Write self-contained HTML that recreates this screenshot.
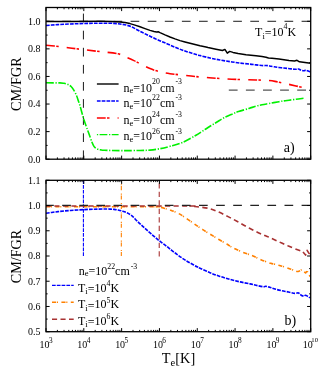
<!DOCTYPE html>
<html lang="en"><head><meta charset="utf-8"><title>CM/FGR vs Te</title>
<style>html,body{margin:0;padding:0;background:#fff;}body{width:332px;height:368px;overflow:hidden;font-family:"Liberation Serif",serif;}svg{display:block;will-change:transform;}</style></head>
<body>
<svg width="332" height="368" viewBox="0 0 332 368">
<defs><clipPath id="ca"><rect x="46.00" y="7.50" width="264.70" height="151.70"/></clipPath><clipPath id="cb"><rect x="46.00" y="180.30" width="264.70" height="151.40"/></clipPath></defs>
<rect width="332" height="368" fill="#fff"/>
<g clip-path="url(#ca)" fill="none" stroke-linecap="butt" stroke-linejoin="round">
<path d="M46.00,21.29 H310.70" stroke="#1a1a1a" stroke-width="1" stroke-dasharray="8.7 8.4" stroke-dashoffset="0.90"/>
<path d="M83.41,-3.50 V159.20" stroke="#1a1a1a" stroke-width="1" stroke-dasharray="8.7 8.4"/>
<path d="M228.8,90.1 H306" stroke="#555" stroke-width="1.2" stroke-dasharray="8.8 8.3"/>
<path d="M46.00,82.80 C48.33,82.82 57.00,82.82 60.00,82.90 C63.00,82.98 62.75,83.07 64.00,83.30 C65.25,83.53 66.32,83.77 67.50,84.30 C68.68,84.83 70.05,85.53 71.10,86.50 C72.15,87.47 72.90,88.60 73.80,90.10 C74.70,91.60 75.73,93.70 76.50,95.50 C77.27,97.30 77.78,99.08 78.40,100.90 C79.02,102.72 79.45,103.83 80.20,106.40 C80.95,108.97 82.23,113.93 82.90,116.30 C83.57,118.67 83.45,118.38 84.20,120.60 C84.95,122.82 86.70,127.67 87.40,129.60 C88.10,131.53 87.95,130.97 88.40,132.20 C88.85,133.43 89.50,135.32 90.10,137.00 C90.70,138.68 91.45,140.90 92.00,142.30 C92.55,143.70 92.98,144.60 93.40,145.40 C93.82,146.20 94.07,146.60 94.50,147.10 C94.93,147.60 95.40,148.03 96.00,148.40 C96.60,148.77 97.27,149.05 98.10,149.30 C98.93,149.55 100.00,149.75 101.00,149.90 C102.00,150.05 102.27,150.10 104.10,150.20 C105.93,150.30 108.68,150.43 112.00,150.50 C115.32,150.57 119.33,150.60 124.00,150.60 C128.67,150.60 135.67,150.58 140.00,150.50 C144.33,150.42 146.67,150.40 150.00,150.10 C153.33,149.80 156.67,149.33 160.00,148.70 C163.33,148.07 166.17,147.38 170.00,146.30 C173.83,145.22 178.67,144.05 183.00,142.20 C187.33,140.35 192.67,137.10 196.00,135.20 C199.33,133.30 200.67,132.28 203.00,130.80 C205.33,129.32 207.67,127.77 210.00,126.30 C212.33,124.83 214.67,123.42 217.00,122.00 C219.33,120.58 221.50,119.10 224.00,117.80 C226.50,116.50 229.58,115.23 232.00,114.20 C234.42,113.17 235.67,112.57 238.50,111.60 C241.33,110.63 246.08,109.30 249.00,108.40 C251.92,107.50 253.83,106.80 256.00,106.20 C258.17,105.60 259.83,105.25 262.00,104.80 C264.17,104.35 266.17,104.02 269.00,103.50 C271.83,102.98 276.50,102.13 279.00,101.70 C281.50,101.27 282.33,101.15 284.00,100.90 C285.67,100.65 287.00,100.48 289.00,100.20 C291.00,99.92 293.58,99.52 296.00,99.20 C298.42,98.88 302.25,98.45 303.50,98.30" stroke="#00f000" stroke-width="1.6" stroke-dasharray="7.75 1.7 1.25 1.45"/>
<path d="M46.00,45.20 C48.33,45.43 55.67,46.10 60.00,46.60 C64.33,47.10 68.00,47.68 72.00,48.20 C76.00,48.72 79.33,49.13 84.00,49.70 C88.67,50.27 94.33,50.92 100.00,51.60 C105.67,52.28 113.50,52.82 118.00,53.80 C122.50,54.78 124.33,56.37 127.00,57.50 C129.67,58.63 131.83,59.57 134.00,60.60 C136.17,61.63 137.33,62.37 140.00,63.70 C142.67,65.03 146.67,67.25 150.00,68.60 C153.33,69.95 156.67,70.93 160.00,71.80 C163.33,72.67 166.67,73.30 170.00,73.80 C173.33,74.30 175.67,74.33 180.00,74.80 C184.33,75.27 190.00,76.03 196.00,76.60 C202.00,77.17 209.33,77.73 216.00,78.20 C222.67,78.67 229.33,79.10 236.00,79.40 C242.67,79.70 251.00,79.85 256.00,80.00 C261.00,80.15 262.83,80.07 266.00,80.30 C269.17,80.53 272.33,80.95 275.00,81.40 C277.67,81.85 279.50,82.47 282.00,83.00 C284.50,83.53 286.50,83.83 290.00,84.60 C293.50,85.37 300.83,87.10 303.00,87.60" stroke="#ff0000" stroke-width="1.6" stroke-dasharray="8.8 1.3 2.5 8.1"/>
<path d="M46.00,25.48 C47.50,25.37 52.00,25.03 55.00,24.83 C58.00,24.62 60.83,24.44 64.00,24.28 C67.17,24.11 70.67,23.97 74.00,23.84 C77.33,23.71 80.67,23.60 84.00,23.51 C87.33,23.42 90.67,23.35 94.00,23.29 C97.33,23.24 101.33,23.19 104.00,23.19 C106.67,23.18 108.33,23.20 110.00,23.24 C111.67,23.28 112.67,23.32 114.00,23.40 C115.33,23.49 116.67,23.59 118.00,23.73 C119.33,23.88 120.50,24.02 122.00,24.28 C123.50,24.53 125.33,24.82 127.00,25.26 C128.67,25.71 130.33,26.22 132.00,26.96 C133.67,27.69 135.33,28.81 137.00,29.69 C138.67,30.57 140.33,31.41 142.00,32.26 C143.67,33.11 145.33,33.95 147.00,34.77 C148.67,35.59 150.33,36.38 152.00,37.18 C153.67,37.97 155.33,38.78 157.00,39.53 C158.67,40.27 160.33,40.96 162.00,41.66 C163.67,42.36 165.33,43.02 167.00,43.74 C168.67,44.45 170.33,45.21 172.00,45.92 C173.67,46.63 175.33,47.32 177.00,48.00 C178.67,48.67 180.33,49.35 182.00,49.97 C183.67,50.59 185.33,51.17 187.00,51.71 C188.67,52.26 190.33,52.73 192.00,53.25 C193.67,53.76 195.67,54.39 197.00,54.78 C198.33,55.16 197.83,55.00 200.00,55.54 C202.17,56.08 206.67,57.25 210.00,58.00 C213.33,58.75 216.67,59.41 220.00,60.02 C223.33,60.63 226.67,61.16 230.00,61.66 C233.33,62.16 236.67,62.62 240.00,63.03 C243.33,63.44 247.33,63.81 250.00,64.12 C252.67,64.43 253.80,64.63 256.00,64.89 C258.20,65.14 261.55,65.56 263.20,65.65 C264.85,65.74 264.83,65.39 265.90,65.43 C266.97,65.48 268.23,65.70 269.60,65.92 C270.97,66.15 272.15,66.49 274.10,66.80 C276.05,67.11 278.90,67.49 281.30,67.78 C283.70,68.07 286.23,68.29 288.50,68.55 C290.77,68.80 293.23,69.23 294.90,69.31 C296.57,69.40 297.45,68.88 298.50,69.04 C299.55,69.20 300.30,70.01 301.20,70.30 C302.10,70.59 303.15,70.78 303.90,70.79 C304.65,70.80 304.80,70.23 305.70,70.35 C306.60,70.47 308.50,71.27 309.30,71.50 C310.10,71.73 310.30,71.68 310.50,71.72" stroke="#0000ff" stroke-width="1.6" stroke-dasharray="3.7 1.1"/>
<path d="M46.00,21.60 L70.00,21.40 L100.00,21.30 L112.00,21.50 L120.00,21.90 L125.00,22.60 L130.00,23.60 L135.00,25.10 L140.00,26.80 L145.00,28.60 L150.00,30.40 L154.00,31.50 L156.50,31.90 L158.50,31.80 L160.00,32.60 L165.00,34.90 L170.00,37.00 L175.00,38.90 L180.00,40.60 L185.00,42.00 L190.00,43.30 L195.00,44.60 L200.00,45.80 L206.00,47.00 L208.00,47.50 L216.00,49.20 L222.50,50.50 L224.90,49.40 L227.30,53.10 L229.70,51.40 L233.00,52.40 L238.10,53.50 L246.00,54.80 L256.00,55.80 L262.00,56.60 L266.00,57.20 L268.50,58.00 L272.00,58.20 L279.00,59.00 L289.00,60.40 L294.50,61.00 L297.00,60.30 L299.50,61.80 L305.00,62.60 L310.50,63.30" stroke="#000" stroke-width="1.5"/>
</g>
<g fill="none" stroke-width="1.4">
<path d="M96.9,84.0 H118.6" stroke="#000" stroke-width="1.4"/>
<path d="M96.9,101.0 H118.6" stroke="#0000ff" stroke-dasharray="3.7 1.1"/>
<path d="M96.9,118.0 H118.6" stroke="#ff0000" stroke-dasharray="8.8 1.3 2.5 8.1"/>
<path d="M96.9,134.6 H118.6" stroke="#00f000" stroke-dasharray="7.75 1.7 1.25 1.45" stroke-dashoffset="9.45"/>
</g>
<g clip-path="url(#cb)" fill="none" stroke-linecap="butt" stroke-linejoin="round">
<path d="M83.41,256.00 V180.30" stroke="#0000ff" stroke-width="1.1" stroke-dasharray="3.7 1.1"/>
<path d="M121.33,256.00 V180.30" stroke="#ff8000" stroke-width="1.1" stroke-dasharray="4.1 0.8 1.1 3.4"/>
<path d="M159.24,256.40 V180.30" stroke="#a83232" stroke-width="1.1" stroke-dasharray="5.1 3.4"/>
<path d="M46.00,213.20 C47.50,213.00 52.00,212.37 55.00,212.00 C58.00,211.63 60.83,211.30 64.00,211.00 C67.17,210.70 70.67,210.43 74.00,210.20 C77.33,209.97 80.67,209.77 84.00,209.60 C87.33,209.43 90.67,209.30 94.00,209.20 C97.33,209.10 101.33,209.02 104.00,209.00 C106.67,208.98 108.33,209.03 110.00,209.10 C111.67,209.17 112.67,209.25 114.00,209.40 C115.33,209.55 116.67,209.73 118.00,210.00 C119.33,210.27 120.50,210.53 122.00,211.00 C123.50,211.47 125.33,211.98 127.00,212.80 C128.67,213.62 130.33,214.55 132.00,215.90 C133.67,217.25 135.33,219.28 137.00,220.90 C138.67,222.52 140.33,224.05 142.00,225.60 C143.67,227.15 145.33,228.70 147.00,230.20 C148.67,231.70 150.33,233.15 152.00,234.60 C153.67,236.05 155.33,237.53 157.00,238.90 C158.67,240.27 160.33,241.52 162.00,242.80 C163.67,244.08 165.33,245.30 167.00,246.60 C168.67,247.90 170.33,249.30 172.00,250.60 C173.67,251.90 175.33,253.17 177.00,254.40 C178.67,255.63 180.33,256.87 182.00,258.00 C183.67,259.13 185.33,260.20 187.00,261.20 C188.67,262.20 190.33,263.07 192.00,264.00 C193.67,264.93 195.67,266.10 197.00,266.80 C198.33,267.50 197.83,267.22 200.00,268.20 C202.17,269.18 206.67,271.33 210.00,272.70 C213.33,274.07 216.67,275.28 220.00,276.40 C223.33,277.52 226.67,278.48 230.00,279.40 C233.33,280.32 236.67,281.15 240.00,281.90 C243.33,282.65 247.33,283.33 250.00,283.90 C252.67,284.47 253.80,284.83 256.00,285.30 C258.20,285.77 261.55,286.53 263.20,286.70 C264.85,286.87 264.83,286.22 265.90,286.30 C266.97,286.38 268.23,286.78 269.60,287.20 C270.97,287.62 272.15,288.23 274.10,288.80 C276.05,289.37 278.90,290.07 281.30,290.60 C283.70,291.13 286.23,291.53 288.50,292.00 C290.77,292.47 293.23,293.25 294.90,293.40 C296.57,293.55 297.45,292.60 298.50,292.90 C299.55,293.20 300.30,294.67 301.20,295.20 C302.10,295.73 303.15,296.08 303.90,296.10 C304.65,296.12 304.80,295.08 305.70,295.30 C306.60,295.52 308.50,296.98 309.30,297.40 C310.10,297.82 310.30,297.73 310.50,297.80" stroke="#0000ff" stroke-width="1.6" stroke-dasharray="3.7 1.1"/>
<path d="M46.00,206.70 C63.33,206.70 131.67,206.67 150.00,206.70 C168.33,206.73 154.33,206.82 156.00,206.90 C157.67,206.98 158.53,206.95 160.00,207.20 C161.47,207.45 163.00,207.90 164.80,208.40 C166.60,208.90 168.38,209.28 170.80,210.20 C173.22,211.12 176.48,212.38 179.30,213.90 C182.12,215.42 184.92,217.43 187.70,219.30 C190.48,221.17 193.42,223.33 196.00,225.10 C198.58,226.87 200.68,228.30 203.20,229.90 C205.72,231.50 208.48,233.10 211.10,234.70 C213.72,236.30 216.20,237.90 218.90,239.50 C221.60,241.10 224.92,242.88 227.30,244.30 C229.68,245.72 230.42,246.60 233.20,248.00 C235.98,249.40 240.68,251.37 244.00,252.70 C247.32,254.03 250.28,254.83 253.10,256.00 C255.92,257.17 257.98,258.48 260.90,259.70 C263.82,260.92 268.02,262.48 270.60,263.30 C273.18,264.12 274.63,264.15 276.40,264.60 C278.17,265.05 279.38,265.45 281.20,266.00 C283.02,266.55 285.08,267.13 287.30,267.90 C289.52,268.67 292.70,270.00 294.50,270.60 C296.30,271.20 296.90,271.67 298.10,271.50 C299.30,271.33 301.10,269.92 301.70,269.60 L305.60,273.00 L307.10,270.80 L308.70,274.80 L310.20,276.40" stroke="#ff8000" stroke-width="1.6" stroke-dasharray="4.1 0.8 1.1 3.4"/>
<path d="M46.00,206.00 C69.17,206.00 161.00,205.99 185.00,206.00 C209.00,206.01 188.50,205.98 190.00,206.05 C191.50,206.12 192.33,206.23 194.00,206.40 C195.67,206.57 197.33,206.72 200.00,207.10 C202.67,207.48 206.67,207.78 210.00,208.70 C213.33,209.62 216.67,211.12 220.00,212.60 C223.33,214.08 226.67,215.87 230.00,217.60 C233.33,219.33 236.67,221.18 240.00,223.00 C243.33,224.82 246.67,226.75 250.00,228.50 C253.33,230.25 256.83,232.05 260.00,233.50 C263.17,234.95 265.83,235.82 269.00,237.20 C272.17,238.58 275.67,240.28 279.00,241.80 C282.33,243.32 285.67,244.88 289.00,246.30 C292.33,247.72 296.78,249.47 299.00,250.30 C301.22,251.13 301.75,251.13 302.30,251.30 L305.60,255.10 L307.10,250.30 L309.00,253.40 L310.50,254.50" stroke="#a83232" stroke-width="1.6" stroke-dasharray="5.1 3.4"/>
<path d="M46.00,205.35 H310.70" stroke="#222" stroke-width="1.1" stroke-dasharray="8.7 8.4" stroke-dashoffset="0.90"/>
</g>
<g fill="none" stroke-width="1.4">
<path d="M52.0,285.4 H73.7" stroke="#0000ff" stroke-dasharray="3.7 1.1"/>
<path d="M52.0,302.3 H73.7" stroke="#ff8000" stroke-dasharray="4.1 0.8 1.1 3.4"/>
<path d="M52.0,319.2 H73.7" stroke="#a83232" stroke-dasharray="5.1 3.4"/>
</g>
<g fill="none" stroke="#000" stroke-width="1.3" stroke-linecap="square">
<rect x="46.00" y="7.50" width="264.70" height="151.70"/>
<rect x="46.00" y="180.30" width="264.70" height="151.40"/>
</g>
<g fill="none" stroke="#000" stroke-width="1" stroke-linecap="butt">
<path d="M46.00,7.50 v3.60 M57.38,7.50 v1.80 M64.04,7.50 v1.80 M68.77,7.50 v1.80 M72.43,7.50 v1.80 M75.43,7.50 v1.80 M77.96,7.50 v1.80 M80.15,7.50 v1.80 M82.08,7.50 v1.80 M83.81,7.50 v3.60 M95.20,7.50 v1.80 M101.86,7.50 v1.80 M106.58,7.50 v1.80 M110.25,7.50 v1.80 M113.24,7.50 v1.80 M115.77,7.50 v1.80 M117.96,7.50 v1.80 M119.90,7.50 v1.80 M121.63,7.50 v3.60 M133.01,7.50 v1.80 M139.67,7.50 v1.80 M144.40,7.50 v1.80 M148.06,7.50 v1.80 M151.05,7.50 v1.80 M153.59,7.50 v1.80 M155.78,7.50 v1.80 M157.71,7.50 v1.80 M159.44,7.50 v3.60 M170.83,7.50 v1.80 M177.48,7.50 v1.80 M182.21,7.50 v1.80 M185.87,7.50 v1.80 M188.87,7.50 v1.80 M191.40,7.50 v1.80 M193.59,7.50 v1.80 M195.53,7.50 v1.80 M197.26,7.50 v3.60 M208.64,7.50 v1.80 M215.30,7.50 v1.80 M220.02,7.50 v1.80 M223.69,7.50 v1.80 M226.68,7.50 v1.80 M229.21,7.50 v1.80 M231.41,7.50 v1.80 M233.34,7.50 v1.80 M235.07,7.50 v3.60 M246.45,7.50 v1.80 M253.11,7.50 v1.80 M257.84,7.50 v1.80 M261.50,7.50 v1.80 M264.50,7.50 v1.80 M267.03,7.50 v1.80 M269.22,7.50 v1.80 M271.16,7.50 v1.80 M272.89,7.50 v3.60 M284.27,7.50 v1.80 M290.93,7.50 v1.80 M295.65,7.50 v1.80 M299.32,7.50 v1.80 M302.31,7.50 v1.80 M304.84,7.50 v1.80 M307.04,7.50 v1.80 M308.97,7.50 v1.80 M310.70,7.50 v3.60"/>
<path d="M46.00,159.20 v-3.60 M57.38,159.20 v-1.80 M64.04,159.20 v-1.80 M68.77,159.20 v-1.80 M72.43,159.20 v-1.80 M75.43,159.20 v-1.80 M77.96,159.20 v-1.80 M80.15,159.20 v-1.80 M82.08,159.20 v-1.80 M83.81,159.20 v-3.60 M95.20,159.20 v-1.80 M101.86,159.20 v-1.80 M106.58,159.20 v-1.80 M110.25,159.20 v-1.80 M113.24,159.20 v-1.80 M115.77,159.20 v-1.80 M117.96,159.20 v-1.80 M119.90,159.20 v-1.80 M121.63,159.20 v-3.60 M133.01,159.20 v-1.80 M139.67,159.20 v-1.80 M144.40,159.20 v-1.80 M148.06,159.20 v-1.80 M151.05,159.20 v-1.80 M153.59,159.20 v-1.80 M155.78,159.20 v-1.80 M157.71,159.20 v-1.80 M159.44,159.20 v-3.60 M170.83,159.20 v-1.80 M177.48,159.20 v-1.80 M182.21,159.20 v-1.80 M185.87,159.20 v-1.80 M188.87,159.20 v-1.80 M191.40,159.20 v-1.80 M193.59,159.20 v-1.80 M195.53,159.20 v-1.80 M197.26,159.20 v-3.60 M208.64,159.20 v-1.80 M215.30,159.20 v-1.80 M220.02,159.20 v-1.80 M223.69,159.20 v-1.80 M226.68,159.20 v-1.80 M229.21,159.20 v-1.80 M231.41,159.20 v-1.80 M233.34,159.20 v-1.80 M235.07,159.20 v-3.60 M246.45,159.20 v-1.80 M253.11,159.20 v-1.80 M257.84,159.20 v-1.80 M261.50,159.20 v-1.80 M264.50,159.20 v-1.80 M267.03,159.20 v-1.80 M269.22,159.20 v-1.80 M271.16,159.20 v-1.80 M272.89,159.20 v-3.60 M284.27,159.20 v-1.80 M290.93,159.20 v-1.80 M295.65,159.20 v-1.80 M299.32,159.20 v-1.80 M302.31,159.20 v-1.80 M304.84,159.20 v-1.80 M307.04,159.20 v-1.80 M308.97,159.20 v-1.80 M310.70,159.20 v-3.60"/>
<path d="M46.00,180.30 v3.60 M57.38,180.30 v1.80 M64.04,180.30 v1.80 M68.77,180.30 v1.80 M72.43,180.30 v1.80 M75.43,180.30 v1.80 M77.96,180.30 v1.80 M80.15,180.30 v1.80 M82.08,180.30 v1.80 M83.81,180.30 v3.60 M95.20,180.30 v1.80 M101.86,180.30 v1.80 M106.58,180.30 v1.80 M110.25,180.30 v1.80 M113.24,180.30 v1.80 M115.77,180.30 v1.80 M117.96,180.30 v1.80 M119.90,180.30 v1.80 M121.63,180.30 v3.60 M133.01,180.30 v1.80 M139.67,180.30 v1.80 M144.40,180.30 v1.80 M148.06,180.30 v1.80 M151.05,180.30 v1.80 M153.59,180.30 v1.80 M155.78,180.30 v1.80 M157.71,180.30 v1.80 M159.44,180.30 v3.60 M170.83,180.30 v1.80 M177.48,180.30 v1.80 M182.21,180.30 v1.80 M185.87,180.30 v1.80 M188.87,180.30 v1.80 M191.40,180.30 v1.80 M193.59,180.30 v1.80 M195.53,180.30 v1.80 M197.26,180.30 v3.60 M208.64,180.30 v1.80 M215.30,180.30 v1.80 M220.02,180.30 v1.80 M223.69,180.30 v1.80 M226.68,180.30 v1.80 M229.21,180.30 v1.80 M231.41,180.30 v1.80 M233.34,180.30 v1.80 M235.07,180.30 v3.60 M246.45,180.30 v1.80 M253.11,180.30 v1.80 M257.84,180.30 v1.80 M261.50,180.30 v1.80 M264.50,180.30 v1.80 M267.03,180.30 v1.80 M269.22,180.30 v1.80 M271.16,180.30 v1.80 M272.89,180.30 v3.60 M284.27,180.30 v1.80 M290.93,180.30 v1.80 M295.65,180.30 v1.80 M299.32,180.30 v1.80 M302.31,180.30 v1.80 M304.84,180.30 v1.80 M307.04,180.30 v1.80 M308.97,180.30 v1.80 M310.70,180.30 v3.60"/>
<path d="M46.00,331.70 v-3.60 M57.38,331.70 v-1.80 M64.04,331.70 v-1.80 M68.77,331.70 v-1.80 M72.43,331.70 v-1.80 M75.43,331.70 v-1.80 M77.96,331.70 v-1.80 M80.15,331.70 v-1.80 M82.08,331.70 v-1.80 M83.81,331.70 v-3.60 M95.20,331.70 v-1.80 M101.86,331.70 v-1.80 M106.58,331.70 v-1.80 M110.25,331.70 v-1.80 M113.24,331.70 v-1.80 M115.77,331.70 v-1.80 M117.96,331.70 v-1.80 M119.90,331.70 v-1.80 M121.63,331.70 v-3.60 M133.01,331.70 v-1.80 M139.67,331.70 v-1.80 M144.40,331.70 v-1.80 M148.06,331.70 v-1.80 M151.05,331.70 v-1.80 M153.59,331.70 v-1.80 M155.78,331.70 v-1.80 M157.71,331.70 v-1.80 M159.44,331.70 v-3.60 M170.83,331.70 v-1.80 M177.48,331.70 v-1.80 M182.21,331.70 v-1.80 M185.87,331.70 v-1.80 M188.87,331.70 v-1.80 M191.40,331.70 v-1.80 M193.59,331.70 v-1.80 M195.53,331.70 v-1.80 M197.26,331.70 v-3.60 M208.64,331.70 v-1.80 M215.30,331.70 v-1.80 M220.02,331.70 v-1.80 M223.69,331.70 v-1.80 M226.68,331.70 v-1.80 M229.21,331.70 v-1.80 M231.41,331.70 v-1.80 M233.34,331.70 v-1.80 M235.07,331.70 v-3.60 M246.45,331.70 v-1.80 M253.11,331.70 v-1.80 M257.84,331.70 v-1.80 M261.50,331.70 v-1.80 M264.50,331.70 v-1.80 M267.03,331.70 v-1.80 M269.22,331.70 v-1.80 M271.16,331.70 v-1.80 M272.89,331.70 v-3.60 M284.27,331.70 v-1.80 M290.93,331.70 v-1.80 M295.65,331.70 v-1.80 M299.32,331.70 v-1.80 M302.31,331.70 v-1.80 M304.84,331.70 v-1.80 M307.04,331.70 v-1.80 M308.97,331.70 v-1.80 M310.70,331.70 v-3.60"/>
<path d="M46.00,159.20 h3.60 M310.70,159.20 h-3.60 M46.00,145.41 h1.60 M310.70,145.41 h-1.60 M46.00,131.62 h3.60 M310.70,131.62 h-3.60 M46.00,117.83 h1.60 M310.70,117.83 h-1.60 M46.00,104.04 h3.60 M310.70,104.04 h-3.60 M46.00,90.25 h1.60 M310.70,90.25 h-1.60 M46.00,76.45 h3.60 M310.70,76.45 h-3.60 M46.00,62.66 h1.60 M310.70,62.66 h-1.60 M46.00,48.87 h3.60 M310.70,48.87 h-3.60 M46.00,35.08 h1.60 M310.70,35.08 h-1.60 M46.00,21.29 h3.60 M310.70,21.29 h-3.60 M46.00,7.50 h1.60 M310.70,7.50 h-1.60"/>
<path d="M46.00,331.70 h3.60 M310.70,331.70 h-3.60 M46.00,319.08 h1.60 M310.70,319.08 h-1.60 M46.00,306.47 h3.60 M310.70,306.47 h-3.60 M46.00,293.85 h1.60 M310.70,293.85 h-1.60 M46.00,281.23 h3.60 M310.70,281.23 h-3.60 M46.00,268.62 h1.60 M310.70,268.62 h-1.60 M46.00,256.00 h3.60 M310.70,256.00 h-3.60 M46.00,243.38 h1.60 M310.70,243.38 h-1.60 M46.00,230.77 h3.60 M310.70,230.77 h-3.60 M46.00,218.15 h1.60 M310.70,218.15 h-1.60 M46.00,205.53 h3.60 M310.70,205.53 h-3.60 M46.00,192.92 h1.60 M310.70,192.92 h-1.60 M46.00,180.30 h3.60 M310.70,180.30 h-3.60"/>
</g>
<g font-family="'Liberation Serif', serif" fill="#000">
<g font-size="10" text-anchor="end">
<text x="40.4" y="162.60">0.0</text>
<text x="40.4" y="135.02">0.2</text>
<text x="40.4" y="107.44">0.4</text>
<text x="40.4" y="79.85">0.6</text>
<text x="40.4" y="52.27">0.8</text>
<text x="40.4" y="24.69">1.0</text>
<text x="40.4" y="335.10">0.5</text>
<text x="40.4" y="309.87">0.6</text>
<text x="40.4" y="284.63">0.7</text>
<text x="40.4" y="259.40">0.8</text>
<text x="40.4" y="234.17">0.9</text>
<text x="40.4" y="208.93">1.0</text>
<text x="40.4" y="183.70">1.1</text>
</g>
<text font-size="10" transform="translate(39.50,347.9) scale(1,1.08)">10</text>
<text font-size="7.3" transform="translate(48.90,342.60)">3</text>
<text font-size="10" transform="translate(77.31,347.9) scale(1,1.08)">10</text>
<text font-size="7.3" transform="translate(86.71,342.60)">4</text>
<text font-size="10" transform="translate(115.13,347.9) scale(1,1.08)">10</text>
<text font-size="7.3" transform="translate(124.53,342.60)">5</text>
<text font-size="10" transform="translate(152.94,347.9) scale(1,1.08)">10</text>
<text font-size="7.3" transform="translate(162.34,342.60)">6</text>
<text font-size="10" transform="translate(190.76,347.9) scale(1,1.08)">10</text>
<text font-size="7.3" transform="translate(200.16,342.60)">7</text>
<text font-size="10" transform="translate(228.57,347.9) scale(1,1.08)">10</text>
<text font-size="7.3" transform="translate(237.97,342.60)">8</text>
<text font-size="10" transform="translate(266.39,347.9) scale(1,1.08)">10</text>
<text font-size="7.3" transform="translate(275.79,342.60)">9</text>
<text font-size="10" transform="translate(302.80,347.9) scale(1,1.08)">10</text>
<text font-size="6.7" transform="translate(311.30,342.40)">10</text>
<text font-size="14.2" text-anchor="middle" transform="translate(20.8,84.10) rotate(-90)">CM/FGR</text>
<text font-size="14.2" text-anchor="middle" transform="translate(20.8,256.50) rotate(-90)">CM/FGR</text>
<text font-size="14.3" x="161.8" y="362.5">T</text>
<text font-size="10.5" x="170.4" y="365.6">e</text>
<text font-size="14.3" x="175.3" y="362.5">[K]</text>
<text font-size="12" transform="translate(123.50,91.50) scale(1,1.12)">n</text><text font-size="8.6" transform="translate(129.50,93.20) scale(1,1.05)">e</text><text font-size="12" transform="translate(133.32,91.50) scale(1,1.12)">=10</text><text font-size="7.8" transform="translate(152.08,84.20) scale(1,1)">20</text><text font-size="12" transform="translate(159.88,91.50) scale(1,1.12)">cm</text><text font-size="7.8" transform="translate(175.44,84.20) scale(1,1)">-3</text>
<text font-size="12" transform="translate(123.50,107.00) scale(1,1.12)">n</text><text font-size="8.6" transform="translate(129.50,108.70) scale(1,1.05)">e</text><text font-size="12" transform="translate(133.32,107.00) scale(1,1.12)">=10</text><text font-size="7.8" transform="translate(152.08,99.70) scale(1,1)">22</text><text font-size="12" transform="translate(159.88,107.00) scale(1,1.12)">cm</text><text font-size="7.8" transform="translate(175.44,99.70) scale(1,1)">-3</text>
<text font-size="12" transform="translate(123.50,124.40) scale(1,1.12)">n</text><text font-size="8.6" transform="translate(129.50,126.10) scale(1,1.05)">e</text><text font-size="12" transform="translate(133.32,124.40) scale(1,1.12)">=10</text><text font-size="7.8" transform="translate(152.08,117.30) scale(1,1)">24</text><text font-size="12" transform="translate(159.88,124.40) scale(1,1.12)">cm</text><text font-size="7.8" transform="translate(175.44,117.30) scale(1,1)">-3</text>
<text font-size="12" transform="translate(123.50,140.40) scale(1,1.12)">n</text><text font-size="8.6" transform="translate(129.50,142.10) scale(1,1.05)">e</text><text font-size="12" transform="translate(133.32,140.40) scale(1,1.12)">=10</text><text font-size="7.8" transform="translate(152.08,133.60) scale(1,1)">26</text><text font-size="12" transform="translate(159.88,140.40) scale(1,1.12)">cm</text><text font-size="7.8" transform="translate(175.44,133.60) scale(1,1)">-3</text>
<text font-size="12" transform="translate(255.10,36.20) scale(1,1.12)">T</text><text font-size="8.6" transform="translate(262.43,39.00) scale(1,1.05)">i</text><text font-size="12" transform="translate(264.82,37.20) scale(1,1.12)">=</text><text font-size="12" transform="translate(271.59,36.20) scale(1,1.12)">10</text><text font-size="7.8" transform="translate(283.59,28.90) scale(1,1)">4</text><text font-size="12" transform="translate(287.49,36.20) scale(1,1.12)">K</text>
<text font-size="14" transform="translate(283.70,152.10) scale(1,1)">a)</text>
<text font-size="12" transform="translate(78.70,274.70) scale(1,1.12)">n</text><text font-size="8.6" transform="translate(84.70,276.40) scale(1,1.05)">e</text><text font-size="12" transform="translate(88.52,274.70) scale(1,1.12)">=10</text><text font-size="7.8" transform="translate(107.28,268.90) scale(1,1)">22</text><text font-size="12" transform="translate(115.08,274.70) scale(1,1.12)">cm</text><text font-size="7.8" transform="translate(130.64,268.90) scale(1,1)">-3</text>
<text font-size="12" transform="translate(78.00,291.50) scale(1,1.12)">T</text><text font-size="8.6" transform="translate(85.33,294.30) scale(1,1.05)">i</text><text font-size="12" transform="translate(87.72,293.10) scale(1,1.12)">=</text><text font-size="12" transform="translate(94.49,291.50) scale(1,1.12)">10</text><text font-size="7.8" transform="translate(106.49,286.10) scale(1,1)">4</text><text font-size="12" transform="translate(110.39,291.50) scale(1,1.12)">K</text>
<text font-size="12" transform="translate(78.00,308.10) scale(1,1.12)">T</text><text font-size="8.6" transform="translate(85.33,310.90) scale(1,1.05)">i</text><text font-size="12" transform="translate(87.72,309.70) scale(1,1.12)">=</text><text font-size="12" transform="translate(94.49,308.10) scale(1,1.12)">10</text><text font-size="7.8" transform="translate(106.49,302.70) scale(1,1)">5</text><text font-size="12" transform="translate(110.39,308.10) scale(1,1.12)">K</text>
<text font-size="12" transform="translate(78.00,324.60) scale(1,1.12)">T</text><text font-size="8.6" transform="translate(85.33,327.40) scale(1,1.05)">i</text><text font-size="12" transform="translate(87.72,326.20) scale(1,1.12)">=</text><text font-size="12" transform="translate(94.49,324.60) scale(1,1.12)">10</text><text font-size="7.8" transform="translate(106.49,319.20) scale(1,1)">6</text><text font-size="12" transform="translate(110.39,324.60) scale(1,1.12)">K</text>
<text font-size="14" transform="translate(284.50,324.60) scale(1,1)">b)</text>
</g>
</svg>
</body></html>
